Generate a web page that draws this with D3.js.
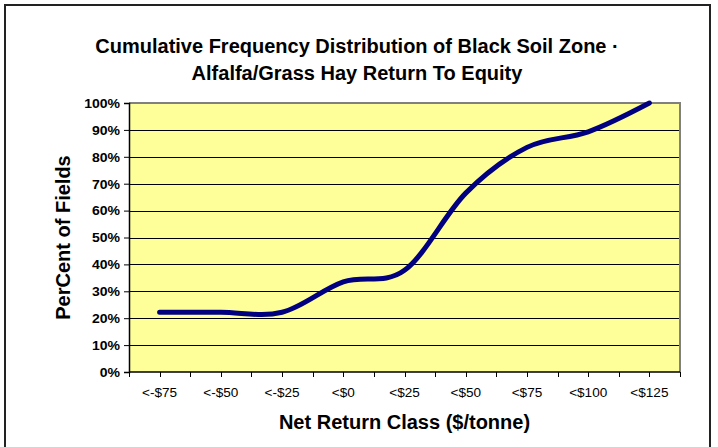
<!DOCTYPE html>
<html>
<head>
<meta charset="utf-8">
<script src="https://cdn.jsdelivr.net/npm/d3@7"></script>
<style>
  html, body { margin: 0; padding: 0; background: #fff; }
  svg { display: block; font-family: "Liberation Sans", Arial, sans-serif; }
</style>
</head>
<body>
<svg id="chart" width="718" height="447"></svg>
<script>
const categories = ["<-$75", "<-$50", "<-$25", "<$0", "<$25", "<$50", "<$75", "<$100", "<$125"];
const percentFields = [22.2, 22.2, 22.2, 33.5, 37.8, 66.5, 83.5, 89.3, 100];
const yTickValues = [0, 10, 20, 30, 40, 50, 60, 70, 80, 90, 100];
const titleLines = ["Cumulative Frequency Distribution of Black Soil Zone \u00B7", "Alfalfa/Grass Hay Return To Equity"];
const xTitle = "Net Return Class ($/tonne)";
const yTitle = "PerCent of Fields";

const svg = d3.select("#chart");
const plot = { left: 129, right: 680, top: 103, bottom: 372 };

// chart frame
svg.append("rect")
  .attr("x", 5).attr("y", 5).attr("width", 705).attr("height", 470)
  .attr("fill", "#fff").attr("stroke", "#222").attr("stroke-width", 2);

const x = d3.scaleBand().domain(categories).range([plot.left, plot.right]).padding(0);
const y = d3.scaleLinear().domain([0, 100]).range([plot.bottom, plot.top]);
const cx = c => x(c) + x.bandwidth() / 2;

// plot background
svg.append("rect")
  .attr("x", plot.left).attr("y", plot.top)
  .attr("width", plot.right - plot.left).attr("height", plot.bottom - plot.top)
  .attr("fill", "#FFFF99");

// gridlines
svg.append("g").selectAll("line")
  .data(yTickValues.filter(v => v > 0 && v < 100))
  .join("line")
  .attr("x1", plot.left).attr("x2", plot.right)
  .attr("y1", d => Math.round(y(d)) + 0.5).attr("y2", d => Math.round(y(d)) + 0.5)
  .attr("stroke", "#000").attr("stroke-width", 1);

// plot border top/right (grey)
svg.append("path")
  .attr("d", `M${plot.left},${plot.top} H${plot.right} V${plot.bottom}`)
  .attr("fill", "none").attr("stroke", "#808080").attr("stroke-width", 2);

// y axis
const yAxis = svg.append("g")
  .attr("transform", `translate(${plot.left},0)`)
  .call(d3.axisLeft(y).tickValues(yTickValues).tickSize(5).tickPadding(0)
    .tickFormat(d => d + "%"));
yAxis.select(".domain").attr("stroke", "#000").attr("stroke-width", 1.5);
yAxis.selectAll(".tick line").attr("stroke", "#000");
yAxis.selectAll(".tick text")
  .attr("x", -9 / 1.17).attr("dy", "0.36em")
  .attr("transform", "scale(1.17,1)")
  .attr("font-size", 12).attr("font-weight", "bold")
  .attr("font-family", "'Liberation Sans', Arial, sans-serif")
  .attr("fill", "#000");

// x axis (ticks at band edges and centres)
const tickPos = [];
categories.forEach(c => { tickPos.push(x(c)); tickPos.push(cx(c)); });
tickPos.push(plot.right);
const xAxisG = svg.append("g");
xAxisG.append("line")
  .attr("x1", plot.left).attr("x2", plot.right)
  .attr("y1", plot.bottom).attr("y2", plot.bottom)
  .attr("stroke", "#000").attr("stroke-width", 1.5);
xAxisG.selectAll("line.tk").data(tickPos).join("line").attr("class", "tk")
  .attr("x1", d => Math.round(d) + 0.5).attr("x2", d => Math.round(d) + 0.5)
  .attr("y1", plot.bottom).attr("y2", plot.bottom + 5)
  .attr("stroke", "#000");
xAxisG.selectAll("text").data(categories).join("text")
  .attr("transform", d => `translate(${cx(d)},${plot.bottom + 25}) scale(1.13,1)`)
  .attr("text-anchor", "middle")
  .attr("font-size", 12)
  .attr("fill", "#000")
  .text(d => d);

// line
const line = d3.line()
  .x((d, i) => cx(categories[i]))
  .y(d => y(d))
  .curve(d3.curveCardinal.tension(0));
svg.append("path")
  .datum(percentFields)
  .attr("d", line)
  .attr("fill", "none")
  .attr("stroke", "#000080")
  .attr("stroke-width", 5)
  .attr("stroke-linecap", "round")
  .attr("stroke-linejoin", "round");

// titles
svg.selectAll("text.title").data(titleLines).join("text").attr("class", "title")
  .attr("transform", (d, i) => `translate(357,${53 + i * 27})`)
  .attr("text-anchor", "middle")
  .attr("font-size", 20).attr("font-weight", "bold")
  .attr("fill", "#000")
  .text(d => d);

svg.append("text")
  .attr("transform", `translate(${(plot.left + plot.right) / 2},429)`)
  .attr("text-anchor", "middle")
  .attr("font-size", 20).attr("font-weight", "bold")
  .attr("fill", "#000")
  .text(xTitle);

svg.append("text")
  .attr("transform", `translate(70,${(plot.top + plot.bottom) / 2}) rotate(-90)`)
  .attr("text-anchor", "middle")
  .attr("font-size", 20).attr("font-weight", "bold")
  .attr("fill", "#000")
  .text(yTitle);
</script>
</body>
</html>
